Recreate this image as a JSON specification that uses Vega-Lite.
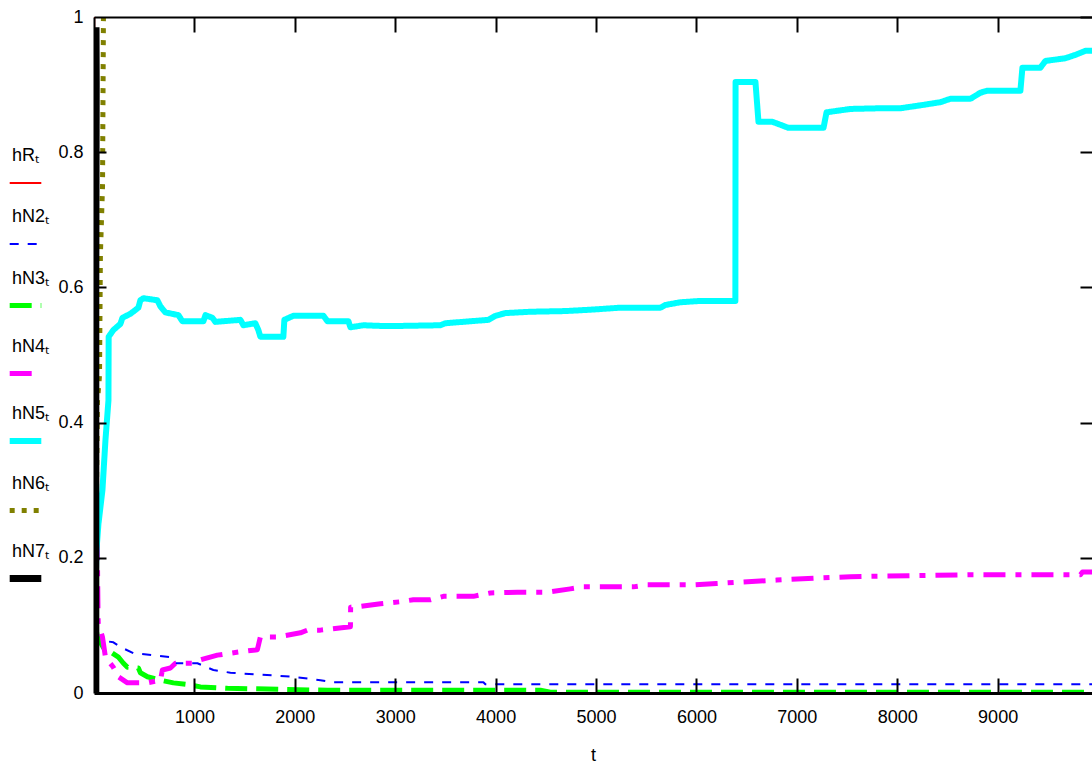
{
  "$schema": "https://vega.github.io/schema/vega-lite/v6.json",
  "width": 998,
  "height": 676,
  "autosize": {"type": "none"},
  "padding": {"left": 94, "top": 17, "right": 0, "bottom": 72},
  "background": "white",
  "config": {
    "view": {"stroke": null},
    "font": "Liberation Sans",
    "style": {"guide-label": {"lineHeight": 55}},
    "axis": {"grid": false, "labelFont": "Liberation Sans", "labelFontSize": 18, "labelColor": "#000", "domainColor": "#000", "tickColor": "#000", "titleFont": "Liberation Sans", "titleFontSize": 18, "titleFontWeight": "normal", "titleColor": "#000", "labelFlush": false, "labelOverlap": false},
    "legend": {"labelFont": "Liberation Sans", "labelFontSize": 18, "labelColor": "#000"}
  },
  "datasets": {
    "lines": [
      {"s": "hRₜ", "i": 0, "t": 2, "v": 0.0},
      {"s": "hRₜ", "i": 1, "t": 2, "v": 1.0},

      {"s": "hN2ₜ", "i": 0, "t": 20, "v": 0.09},
      {"s": "hN2ₜ", "i": 1, "t": 64, "v": 0.078},
      {"s": "hN2ₜ", "i": 2, "t": 193, "v": 0.075},
      {"s": "hN2ₜ", "i": 3, "t": 263, "v": 0.068},
      {"s": "hN2ₜ", "i": 4, "t": 392, "v": 0.059},
      {"s": "hN2ₜ", "i": 5, "t": 761, "v": 0.053},
      {"s": "hN2ₜ", "i": 6, "t": 791, "v": 0.044},
      {"s": "hN2ₜ", "i": 7, "t": 1030, "v": 0.044},
      {"s": "hN2ₜ", "i": 8, "t": 1189, "v": 0.034},
      {"s": "hN2ₜ", "i": 9, "t": 1359, "v": 0.03},
      {"s": "hN2ₜ", "i": 10, "t": 1986, "v": 0.024},
      {"s": "hN2ₜ", "i": 11, "t": 2255, "v": 0.019},
      {"s": "hN2ₜ", "i": 12, "t": 2385, "v": 0.016},
      {"s": "hN2ₜ", "i": 13, "t": 3878, "v": 0.016},
      {"s": "hN2ₜ", "i": 14, "t": 3898, "v": 0.013},
      {"s": "hN2ₜ", "i": 15, "t": 9940, "v": 0.013},

      {"s": "hN3ₜ", "i": 0, "t": 20, "v": 0.095},
      {"s": "hN3ₜ", "i": 1, "t": 34, "v": 0.083},
      {"s": "hN3ₜ", "i": 2, "t": 94, "v": 0.067},
      {"s": "hN3ₜ", "i": 3, "t": 163, "v": 0.061},
      {"s": "hN3ₜ", "i": 4, "t": 243, "v": 0.053},
      {"s": "hN3ₜ", "i": 5, "t": 293, "v": 0.044},
      {"s": "hN3ₜ", "i": 6, "t": 333, "v": 0.038},
      {"s": "hN3ₜ", "i": 7, "t": 442, "v": 0.037},
      {"s": "hN3ₜ", "i": 8, "t": 462, "v": 0.03},
      {"s": "hN3ₜ", "i": 9, "t": 532, "v": 0.024},
      {"s": "hN3ₜ", "i": 10, "t": 661, "v": 0.019},
      {"s": "hN3ₜ", "i": 11, "t": 791, "v": 0.015},
      {"s": "hN3ₜ", "i": 12, "t": 960, "v": 0.012},
      {"s": "hN3ₜ", "i": 13, "t": 1060, "v": 0.009},
      {"s": "hN3ₜ", "i": 14, "t": 1329, "v": 0.007},
      {"s": "hN3ₜ", "i": 15, "t": 2325, "v": 0.004},
      {"s": "hN3ₜ", "i": 16, "t": 4446, "v": 0.004},
      {"s": "hN3ₜ", "i": 17, "t": 4545, "v": 0.001},
      {"s": "hN3ₜ", "i": 18, "t": 9940, "v": 0.001},

      {"s": "hN4ₜ", "i": 0, "t": 25, "v": 0.3},
      {"s": "hN4ₜ", "i": 1, "t": 34, "v": 0.2},
      {"s": "hN4ₜ", "i": 2, "t": 40, "v": 0.12},
      {"s": "hN4ₜ", "i": 3, "t": 42, "v": 0.104},
      {"s": "hN4ₜ", "i": 4, "t": 84, "v": 0.083},
      {"s": "hN4ₜ", "i": 5, "t": 114, "v": 0.053},
      {"s": "hN4ₜ", "i": 6, "t": 193, "v": 0.038},
      {"s": "hN4ₜ", "i": 7, "t": 243, "v": 0.024},
      {"s": "hN4ₜ", "i": 8, "t": 333, "v": 0.015},
      {"s": "hN4ₜ", "i": 9, "t": 532, "v": 0.015},
      {"s": "hN4ₜ", "i": 10, "t": 631, "v": 0.018},
      {"s": "hN4ₜ", "i": 11, "t": 661, "v": 0.018},
      {"s": "hN4ₜ", "i": 12, "t": 681, "v": 0.034},
      {"s": "hN4ₜ", "i": 13, "t": 761, "v": 0.037},
      {"s": "hN4ₜ", "i": 14, "t": 811, "v": 0.044},
      {"s": "hN4ₜ", "i": 15, "t": 980, "v": 0.044},
      {"s": "hN4ₜ", "i": 16, "t": 1060, "v": 0.049},
      {"s": "hN4ₜ", "i": 17, "t": 1130, "v": 0.052},
      {"s": "hN4ₜ", "i": 18, "t": 1229, "v": 0.056},
      {"s": "hN4ₜ", "i": 19, "t": 1458, "v": 0.061},
      {"s": "hN4ₜ", "i": 20, "t": 1627, "v": 0.064},
      {"s": "hN4ₜ", "i": 21, "t": 1657, "v": 0.083},
      {"s": "hN4ₜ", "i": 22, "t": 1827, "v": 0.083},
      {"s": "hN4ₜ", "i": 23, "t": 2056, "v": 0.089},
      {"s": "hN4ₜ", "i": 24, "t": 2126, "v": 0.093},
      {"s": "hN4ₜ", "i": 25, "t": 2255, "v": 0.093},
      {"s": "hN4ₜ", "i": 26, "t": 2554, "v": 0.098},
      {"s": "hN4ₜ", "i": 27, "t": 2556, "v": 0.127},
      {"s": "hN4ₜ", "i": 28, "t": 2653, "v": 0.128},
      {"s": "hN4ₜ", "i": 29, "t": 2853, "v": 0.132},
      {"s": "hN4ₜ", "i": 30, "t": 3052, "v": 0.135},
      {"s": "hN4ₜ", "i": 31, "t": 3181, "v": 0.138},
      {"s": "hN4ₜ", "i": 32, "t": 3351, "v": 0.138},
      {"s": "hN4ₜ", "i": 33, "t": 3480, "v": 0.143},
      {"s": "hN4ₜ", "i": 34, "t": 3779, "v": 0.143},
      {"s": "hN4ₜ", "i": 35, "t": 3948, "v": 0.148},
      {"s": "hN4ₜ", "i": 36, "t": 4217, "v": 0.149},
      {"s": "hN4ₜ", "i": 37, "t": 4515, "v": 0.149},
      {"s": "hN4ₜ", "i": 38, "t": 4744, "v": 0.154},
      {"s": "hN4ₜ", "i": 39, "t": 4874, "v": 0.157},
      {"s": "hN4ₜ", "i": 40, "t": 5372, "v": 0.157},
      {"s": "hN4ₜ", "i": 41, "t": 5511, "v": 0.16},
      {"s": "hN4ₜ", "i": 42, "t": 5969, "v": 0.16},
      {"s": "hN4ₜ", "i": 43, "t": 6200, "v": 0.162},
      {"s": "hN4ₜ", "i": 44, "t": 6800, "v": 0.167},
      {"s": "hN4ₜ", "i": 45, "t": 7200, "v": 0.17},
      {"s": "hN4ₜ", "i": 46, "t": 7534, "v": 0.172},
      {"s": "hN4ₜ", "i": 47, "t": 8729, "v": 0.175},
      {"s": "hN4ₜ", "i": 48, "t": 9825, "v": 0.175},
      {"s": "hN4ₜ", "i": 49, "t": 9845, "v": 0.179},
      {"s": "hN4ₜ", "i": 50, "t": 9940, "v": 0.179},

      {"s": "hN5ₜ", "i": 0, "t": 4, "v": 0.09},
      {"s": "hN5ₜ", "i": 1, "t": 14, "v": 0.14},
      {"s": "hN5ₜ", "i": 2, "t": 24, "v": 0.21},
      {"s": "hN5ₜ", "i": 3, "t": 44, "v": 0.25},
      {"s": "hN5ₜ", "i": 4, "t": 84, "v": 0.3},
      {"s": "hN5ₜ", "i": 5, "t": 114, "v": 0.374},
      {"s": "hN5ₜ", "i": 6, "t": 144, "v": 0.433},
      {"s": "hN5ₜ", "i": 7, "t": 146, "v": 0.527},
      {"s": "hN5ₜ", "i": 8, "t": 193, "v": 0.537},
      {"s": "hN5ₜ", "i": 9, "t": 263, "v": 0.546},
      {"s": "hN5ₜ", "i": 10, "t": 283, "v": 0.555},
      {"s": "hN5ₜ", "i": 11, "t": 363, "v": 0.561},
      {"s": "hN5ₜ", "i": 12, "t": 442, "v": 0.57},
      {"s": "hN5ₜ", "i": 13, "t": 462, "v": 0.581},
      {"s": "hN5ₜ", "i": 14, "t": 492, "v": 0.584},
      {"s": "hN5ₜ", "i": 15, "t": 631, "v": 0.581},
      {"s": "hN5ₜ", "i": 16, "t": 661, "v": 0.572},
      {"s": "hN5ₜ", "i": 17, "t": 711, "v": 0.563},
      {"s": "hN5ₜ", "i": 18, "t": 841, "v": 0.559},
      {"s": "hN5ₜ", "i": 19, "t": 880, "v": 0.55},
      {"s": "hN5ₜ", "i": 20, "t": 1090, "v": 0.55},
      {"s": "hN5ₜ", "i": 21, "t": 1110, "v": 0.559},
      {"s": "hN5ₜ", "i": 22, "t": 1179, "v": 0.555},
      {"s": "hN5ₜ", "i": 23, "t": 1209, "v": 0.549},
      {"s": "hN5ₜ", "i": 24, "t": 1458, "v": 0.552},
      {"s": "hN5ₜ", "i": 25, "t": 1488, "v": 0.544},
      {"s": "hN5ₜ", "i": 26, "t": 1607, "v": 0.547},
      {"s": "hN5ₜ", "i": 27, "t": 1637, "v": 0.537},
      {"s": "hN5ₜ", "i": 28, "t": 1657, "v": 0.527},
      {"s": "hN5ₜ", "i": 29, "t": 1886, "v": 0.527},
      {"s": "hN5ₜ", "i": 30, "t": 1896, "v": 0.552},
      {"s": "hN5ₜ", "i": 31, "t": 1986, "v": 0.558},
      {"s": "hN5ₜ", "i": 32, "t": 2285, "v": 0.558},
      {"s": "hN5ₜ", "i": 33, "t": 2325, "v": 0.55},
      {"s": "hN5ₜ", "i": 34, "t": 2534, "v": 0.55},
      {"s": "hN5ₜ", "i": 35, "t": 2554, "v": 0.541},
      {"s": "hN5ₜ", "i": 36, "t": 2684, "v": 0.544},
      {"s": "hN5ₜ", "i": 37, "t": 2853, "v": 0.543},
      {"s": "hN5ₜ", "i": 38, "t": 3052, "v": 0.543},
      {"s": "hN5ₜ", "i": 39, "t": 3450, "v": 0.544},
      {"s": "hN5ₜ", "i": 40, "t": 3500, "v": 0.547},
      {"s": "hN5ₜ", "i": 41, "t": 3928, "v": 0.552},
      {"s": "hN5ₜ", "i": 42, "t": 3998, "v": 0.558},
      {"s": "hN5ₜ", "i": 43, "t": 4098, "v": 0.562},
      {"s": "hN5ₜ", "i": 44, "t": 4347, "v": 0.564},
      {"s": "hN5ₜ", "i": 45, "t": 4695, "v": 0.565},
      {"s": "hN5ₜ", "i": 46, "t": 4944, "v": 0.567},
      {"s": "hN5ₜ", "i": 47, "t": 5243, "v": 0.57},
      {"s": "hN5ₜ", "i": 48, "t": 5641, "v": 0.57},
      {"s": "hN5ₜ", "i": 49, "t": 5691, "v": 0.574},
      {"s": "hN5ₜ", "i": 50, "t": 5840, "v": 0.578},
      {"s": "hN5ₜ", "i": 51, "t": 6039, "v": 0.58},
      {"s": "hN5ₜ", "i": 52, "t": 6388, "v": 0.58},
      {"s": "hN5ₜ", "i": 53, "t": 6390, "v": 0.904},
      {"s": "hN5ₜ", "i": 54, "t": 6588, "v": 0.904},
      {"s": "hN5ₜ", "i": 55, "t": 6618, "v": 0.845},
      {"s": "hN5ₜ", "i": 56, "t": 6757, "v": 0.845},
      {"s": "hN5ₜ", "i": 57, "t": 6917, "v": 0.836},
      {"s": "hN5ₜ", "i": 58, "t": 7266, "v": 0.836},
      {"s": "hN5ₜ", "i": 59, "t": 7296, "v": 0.859},
      {"s": "hN5ₜ", "i": 60, "t": 7534, "v": 0.864},
      {"s": "hN5ₜ", "i": 61, "t": 7833, "v": 0.865},
      {"s": "hN5ₜ", "i": 62, "t": 8032, "v": 0.865},
      {"s": "hN5ₜ", "i": 63, "t": 8260, "v": 0.87},
      {"s": "hN5ₜ", "i": 64, "t": 8430, "v": 0.874},
      {"s": "hN5ₜ", "i": 65, "t": 8530, "v": 0.879},
      {"s": "hN5ₜ", "i": 66, "t": 8729, "v": 0.879},
      {"s": "hN5ₜ", "i": 67, "t": 8829, "v": 0.888},
      {"s": "hN5ₜ", "i": 68, "t": 8898, "v": 0.891},
      {"s": "hN5ₜ", "i": 69, "t": 9227, "v": 0.891},
      {"s": "hN5ₜ", "i": 70, "t": 9247, "v": 0.925},
      {"s": "hN5ₜ", "i": 71, "t": 9426, "v": 0.925},
      {"s": "hN5ₜ", "i": 72, "t": 9476, "v": 0.935},
      {"s": "hN5ₜ", "i": 73, "t": 9676, "v": 0.939},
      {"s": "hN5ₜ", "i": 74, "t": 9775, "v": 0.944},
      {"s": "hN5ₜ", "i": 75, "t": 9875, "v": 0.95},
      {"s": "hN5ₜ", "i": 76, "t": 9940, "v": 0.95},

      {"s": "hN6ₜ", "i": 0, "t": 4, "v": 0.0},
      {"s": "hN6ₜ", "i": 1, "t": 34, "v": 0.43},
      {"s": "hN6ₜ", "i": 2, "t": 55, "v": 0.47},
      {"s": "hN6ₜ", "i": 3, "t": 64, "v": 0.65},
      {"s": "hN6ₜ", "i": 4, "t": 85, "v": 0.75},
      {"s": "hN6ₜ", "i": 5, "t": 94, "v": 1.0},

      {"s": "hN7ₜ", "i": 0, "t": 18, "v": 0.0},
      {"s": "hN7ₜ", "i": 1, "t": 18, "v": 0.6},
      {"s": "hN7ₜ", "i": 2, "t": 22, "v": 0.9},
      {"s": "hN7ₜ", "i": 3, "t": 20, "v": 0.985}
    ]
  },
  "data": {"name": "lines"},
  "layer": [
    {
      "mark": {"type": "line", "strokeCap": "butt", "strokeJoin": "round", "clip": true},
      "encoding": {
        "x": {"field": "t", "type": "quantitative", "scale": {"domain": [0, 9940], "nice": false, "zero": false},
              "axis": {"orient": "bottom", "values": [1000, 2000, 3000, 4000, 5000, 6000, 7000, 8000, 9000], "format": "d", "ticks": false, "domainWidth": 3, "labelPadding": 15, "title": "t", "titlePadding": 20, "zindex": 1}},
        "y": {"field": "v", "type": "quantitative", "scale": {"domain": [0, 1], "nice": false},
              "axis": {"orient": "left", "values": [0, 0.2, 0.4, 0.6, 0.8, 1], "format": "~g", "ticks": false, "domainWidth": 2, "labelPadding": 11, "title": null, "zindex": 1}},
        "color": {"field": "s", "type": "nominal",
                  "scale": {"domain": ["hRₜ", "hN2ₜ", "hN3ₜ", "hN4ₜ", "hN5ₜ", "hN6ₜ", "hN7ₜ"], "range": ["#ff0000", "#0000ff", "#00ff00", "#ff00ff", "#00ffff", "#808000", "#000000"]},
                  "legend": {"title": null, "orient": "none", "legendX": -88, "legendY": 149, "symbolType": "stroke", "symbolSize": 1000, "labelOffset": -33, "labelBaseline": "line-bottom", "rowPadding": 21}},
        "strokeDash": {"field": "s", "type": "nominal",
                  "scale": {"domain": ["hRₜ", "hN2ₜ", "hN3ₜ", "hN4ₜ", "hN5ₜ", "hN6ₜ", "hN7ₜ"], "range": [[1, 0], [9, 9], [22, 9], [22, 10, 6, 10], [1, 0], [5, 7], [1, 0]]},
                  "legend": {"title": null}},
        "strokeWidth": {"field": "s", "type": "nominal",
                  "scale": {"type": "ordinal", "domain": ["hRₜ", "hN2ₜ", "hN3ₜ", "hN4ₜ", "hN5ₜ", "hN6ₜ", "hN7ₜ"], "range": [2, 2, 5, 5, 6, 5, 7]},
                  "legend": {"title": null}},
        "order": {"field": "i", "type": "quantitative"}
      }
    },
    {
      "mark": {"type": "point", "opacity": 0},
      "encoding": {
        "x": {"field": "t", "type": "quantitative",
              "axis": {"orient": "top", "values": [1000, 2000, 3000, 4000, 5000, 6000, 7000, 8000, 9000], "labels": false, "tickSize": -15, "tickWidth": 2, "domainWidth": 2, "title": null, "zindex": 1}},
        "y": {"field": "v", "type": "quantitative",
              "axis": {"orient": "right", "values": [0.2, 0.4, 0.6, 0.8, 1], "labels": false, "tickSize": -12, "tickWidth": 2, "domain": false, "title": null, "zindex": 1}}
      }
    },
    {
      "mark": {"type": "point", "opacity": 0},
      "encoding": {
        "x": {"field": "t", "type": "quantitative",
              "axis": {"orient": "bottom", "offset": -15, "values": [1000, 2000, 3000, 4000, 5000, 6000, 7000, 8000, 9000], "labels": false, "domain": false, "tickSize": 15, "tickWidth": 2, "title": null, "zindex": 1}},
        "y": {"field": "v", "type": "quantitative",
              "axis": {"orient": "left", "offset": -12, "values": [0.2, 0.4, 0.6, 0.8], "labels": false, "domain": false, "tickSize": 12, "tickWidth": 2, "title": null, "zindex": 1}}
      }
    }
  ],
  "resolve": {"axis": {"x": "independent", "y": "independent"}}
}
